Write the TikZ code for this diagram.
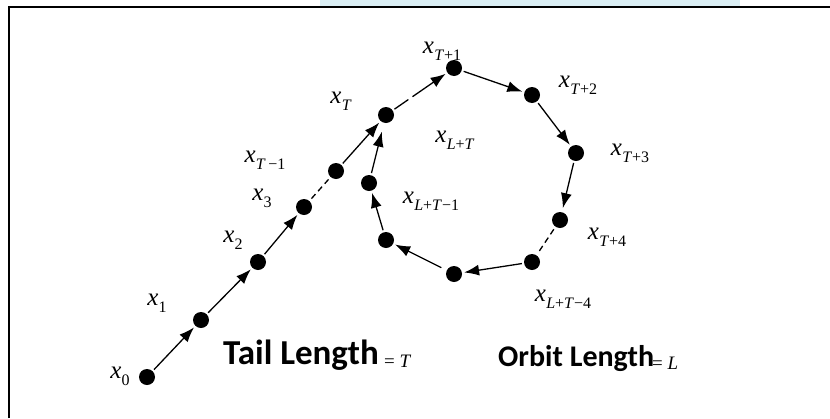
\documentclass[tikz,border=0pt]{standalone}
\usepackage{fontspec}
\setmainfont{Liberation Serif}
\newfontfamily\calfont{Carlito}
\usetikzlibrary{arrows.meta}
\definecolor{wmark}{RGB}{218,238,244}
\newcommand{\xl}[1]{\textit{x}\kern0.3pt\raisebox{-0.28em}{\fontsize{16}{16}\selectfont #1}}
\begin{document}
\begin{tikzpicture}[x=1pt,y=-1pt,
 dot/.style={circle,fill=black,inner sep=0pt,minimum size=16pt},
 lab/.style={inner sep=0pt,font=\fontsize{25}{25}\selectfont},
 arr/.style={line width=1.3pt,-{Latex[length=15pt,width=11pt]},shorten >=2pt,shorten <=2pt},
 dsh/.style={line width=1.3pt,dash pattern=on 6pt off 4pt,shorten >=3pt,shorten <=3pt},
 ttl/.style={inner sep=0pt,anchor=base west,font=\calfont\bfseries\fontsize{30}{30}\selectfont},
 eqs/.style={inner sep=0pt,anchor=base west,font=\fontsize{19}{19}\selectfont}
]
\useasboundingbox (0,0) rectangle (830,418);
\fill[wmark] (320,0) rectangle (740,5.5);
\draw[line width=2pt] (8.7,418) -- (8.7,6.7) -- (830,6.7);
% dots
\node[dot] (x0) at (147,377) {};
\node[dot] (x1) at (201,320) {};
\node[dot] (x2) at (258,262) {};
\node[dot] (x3) at (304,207) {};
\node[dot] (xTm1) at (336,171) {};
\node[dot] (xT) at (386,115) {};
\node[dot] (xT1) at (454,68) {};
\node[dot] (xT2) at (532,95) {};
\node[dot] (xT3) at (576,153) {};
\node[dot] (xT4) at (560,220) {};
\node[dot] (xL4) at (532,262) {};
\node[dot] (xB) at (454,274) {};
\node[dot] (xLL) at (386,240) {};
\node[dot] (xL1) at (369,183) {};
% connectors
\draw[arr] (x0) -- (x1);
\draw[arr] (x1) -- (x2);
\draw[arr] (x2) -- (x3);
\draw[dsh] (x3) -- (xTm1);
\draw[arr] (xTm1) -- (xT);
\draw[arr,dash pattern=on 17pt off 5pt on 200pt off 0pt] (xT) -- (xT1);
\draw[arr] (xT1) -- (xT2);
\draw[arr] (xT2) -- (xT3);
\draw[arr,shorten >=4pt] (xT3) -- (xT4);
\draw[dsh] (xT4) -- (xL4);
\draw[arr] (xL4) -- (xB);
\draw[arr,shorten <=6pt] (xB) -- (xLL);
\draw[arr] (xLL) -- (xL1);
\draw[arr,shorten >=9pt] (xL1) -- (xT);
% labels
\node[lab] (l0) at (120,376) {\xl{0}};
\node[lab] (l1) at (157,303) {\xl{1}};
\node[lab] (l2) at (233,240) {\xl{2}};
\node[lab] (l3) at (262,198) {\xl{3}};
\node[lab] (lTm1) at (265,160) {\xl{\textit{T}\,−1}};
\node[lab] (lT) at (341,101) {\xl{\textit{T}}};
\node[lab] (lT1) at (442,51) {\xl{\textit{T}+1}};
\node[lab] (lT2) at (578,85) {\xl{\textit{T}+2}};
\node[lab] (lT3) at (630,153) {\xl{\textit{T}+3}};
\node[lab] (lT4) at (607,237) {\xl{\textit{T}+4}};
\node[lab] (lL4) at (563,299) {\xl{\textit{L}+\textit{T}−4}};
\node[lab] (lLT) at (455,140) {\xl{\textit{L}+\textit{T}}};
\node[lab] (lL1) at (431,201) {\xl{\textit{L}+\textit{T}−1}};
% titles
\node[ttl,font=\calfont\bfseries\fontsize{35}{35}\selectfont] (tail) at (223,364) {Tail Length};
\node[eqs] (teq) at (384,367) {= \textit{T}};
\node[ttl] (orb) at (498,366) {Orbit Length};
\node[eqs] (oeq) at (652,369) {= \textit{L}};
\end{tikzpicture}
\end{document}
